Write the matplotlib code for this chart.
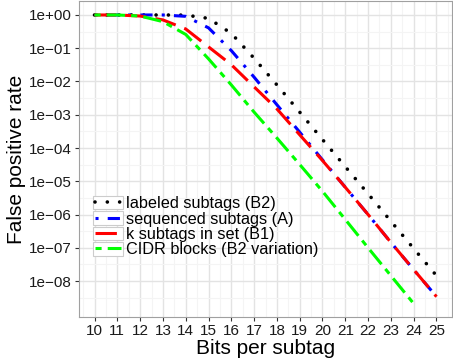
import matplotlib
matplotlib.use("Agg")
import matplotlib.pyplot as plt
from matplotlib.ticker import FixedLocator, NullFormatter
from matplotlib.legend_handler import HandlerLine2D
from matplotlib.patches import Rectangle

plt.rcParams['font.family'] = ['Liberation Sans', 'DejaVu Sans']

# Data (false positive rate per bits per subtag)
bits = [10, 11, 12, 13, 14, 15, 16, 17, 18, 19, 20, 21, 22, 23, 24, 25]
bits_cidr = [10, 11, 12, 13, 14, 15, 16, 17, 18, 19, 20, 21, 22, 23, 24]

labeled_b2 = [1.0, 1.0, 1.0, 1.0, 0.99, 0.79, 0.28, 5.0e-2, 7.9e-3, 1.2e-3,
              1.8e-4, 2.75e-5, 4.2e-6, 6.3e-7, 9.5e-8, 1.45e-8]
sequenced_a = [1.0, 1.0, 1.0, 1.0, 0.91, 0.41, 8.5e-2, 1.35e-2, 2.0e-3, 3.0e-4,
               4.4e-5, 6.6e-6, 1.0e-6, 1.45e-7, 2.2e-8, 3.4e-9]
k_subtags_b1 = [1.0, 1.0, 0.93, 0.71, 0.38, 0.11, 3.2e-2, 6.9e-3, 1.5e-3, 2.5e-4,
                4.2e-5, 6.6e-6, 1.0e-6, 1.45e-7, 2.2e-8, 3.4e-9]
cidr_b2var = [1.0, 1.0, 0.93, 0.63, 0.26, 4.8e-2, 7.9e-3, 1.2e-3, 2.0e-4, 3.2e-5,
              5.0e-6, 7.1e-7, 1.0e-7, 1.45e-8, 2.1e-9]

series_labels = ['labeled subtags (B2)', 'sequenced subtags (A)',
                 'k subtags in set (B1)', 'CIDR blocks (B2 variation)']

y_ticks = [1e0, 1e-1, 1e-2, 1e-3, 1e-4, 1e-5, 1e-6, 1e-7, 1e-8]
y_tick_labels = ['1e+00', '1e\u221201', '1e\u221202', '1e\u221203', '1e\u221204',
                 '1e\u221205', '1e\u221206', '1e\u221207', '1e\u221208']


class KeyBoxHandler(HandlerLine2D):
    # legend key with a light grey box behind the line, like ggplot keys
    def create_artists(self, legend, orig_handle, xdescent, ydescent,
                       width, height, fontsize, trans):
        artists = super().create_artists(legend, orig_handle, xdescent, ydescent,
                                         width, height, fontsize, trans)
        box = Rectangle((-xdescent, -ydescent), width, height, facecolor='white',
                        edgecolor='#CCCCCC', lw=0.8, transform=trans)
        return [box] + list(artists)


fig = plt.figure(figsize=(4.53, 3.64), dpi=100)
ax = fig.add_axes([79 / 453, 47 / 364, 373 / 453, 316 / 364])

lw = 2.2
ax.plot(bits, labeled_b2, color='black', lw=2.6, linestyle=(0, (0.01, 3.4)),
        dash_capstyle='round')
ax.plot(bits, sequenced_a, color='#0000FF', lw=lw, linestyle=(0, (1, 3, 4, 3)))
ax.plot(bits, k_subtags_b1, color='#FF0000', lw=lw, linestyle=(0, (7, 3)))
ax.plot(bits_cidr, cidr_b2var, color='#00FF00', lw=lw, linestyle=(0, (2, 2, 6, 2)))

ax.set_yscale('log')
ax.set_xlim(9.32, 25.68)
ax.set_ylim(10 ** -9.08, 10 ** 0.42)

ax.set_xticks(bits)
ax.set_xticklabels([str(b) for b in bits])
ax.xaxis.set_minor_locator(FixedLocator([b + 0.5 for b in range(9, 26)]))
ax.yaxis.set_major_locator(FixedLocator(y_ticks))
ax.set_yticklabels(y_tick_labels)
ax.yaxis.set_minor_locator(FixedLocator([10 ** (-k - 0.5) for k in range(0, 9)]))
ax.yaxis.set_minor_formatter(NullFormatter())

ax.grid(True, which='major', color='#E3E3E3', lw=1.0)
ax.grid(True, which='minor', color='#F4F4F4', lw=0.8)
ax.set_axisbelow(True)

ax.tick_params(which='major', length=3, width=0.8, color='#333333',
               labelsize=11, labelcolor='#1a1a1a', pad=2)
ax.tick_params(which='minor', length=0)
for s in ax.spines.values():
    s.set_color('#A0A0A0')
    s.set_linewidth(0.8)

ax.set_xlabel('Bits per subtag', fontsize=15, labelpad=1)
ax.set_ylabel('False positive rate', fontsize=15, labelpad=2)

leg = ax.legend(ax.get_lines(), series_labels, loc='upper left',
                bbox_to_anchor=(93 / 453, 1 - 196 / 364),
                bbox_transform=fig.transFigure, fontsize=11.7, frameon=False,
                borderpad=0, labelspacing=0.0, handlelength=1.85,
                handleheight=0.9, handletextpad=0.15, borderaxespad=0,
                handler_map={plt.Line2D: KeyBoxHandler(numpoints=2, marker_pad=0.15)})

fig.savefig('out.png', dpi=100)
